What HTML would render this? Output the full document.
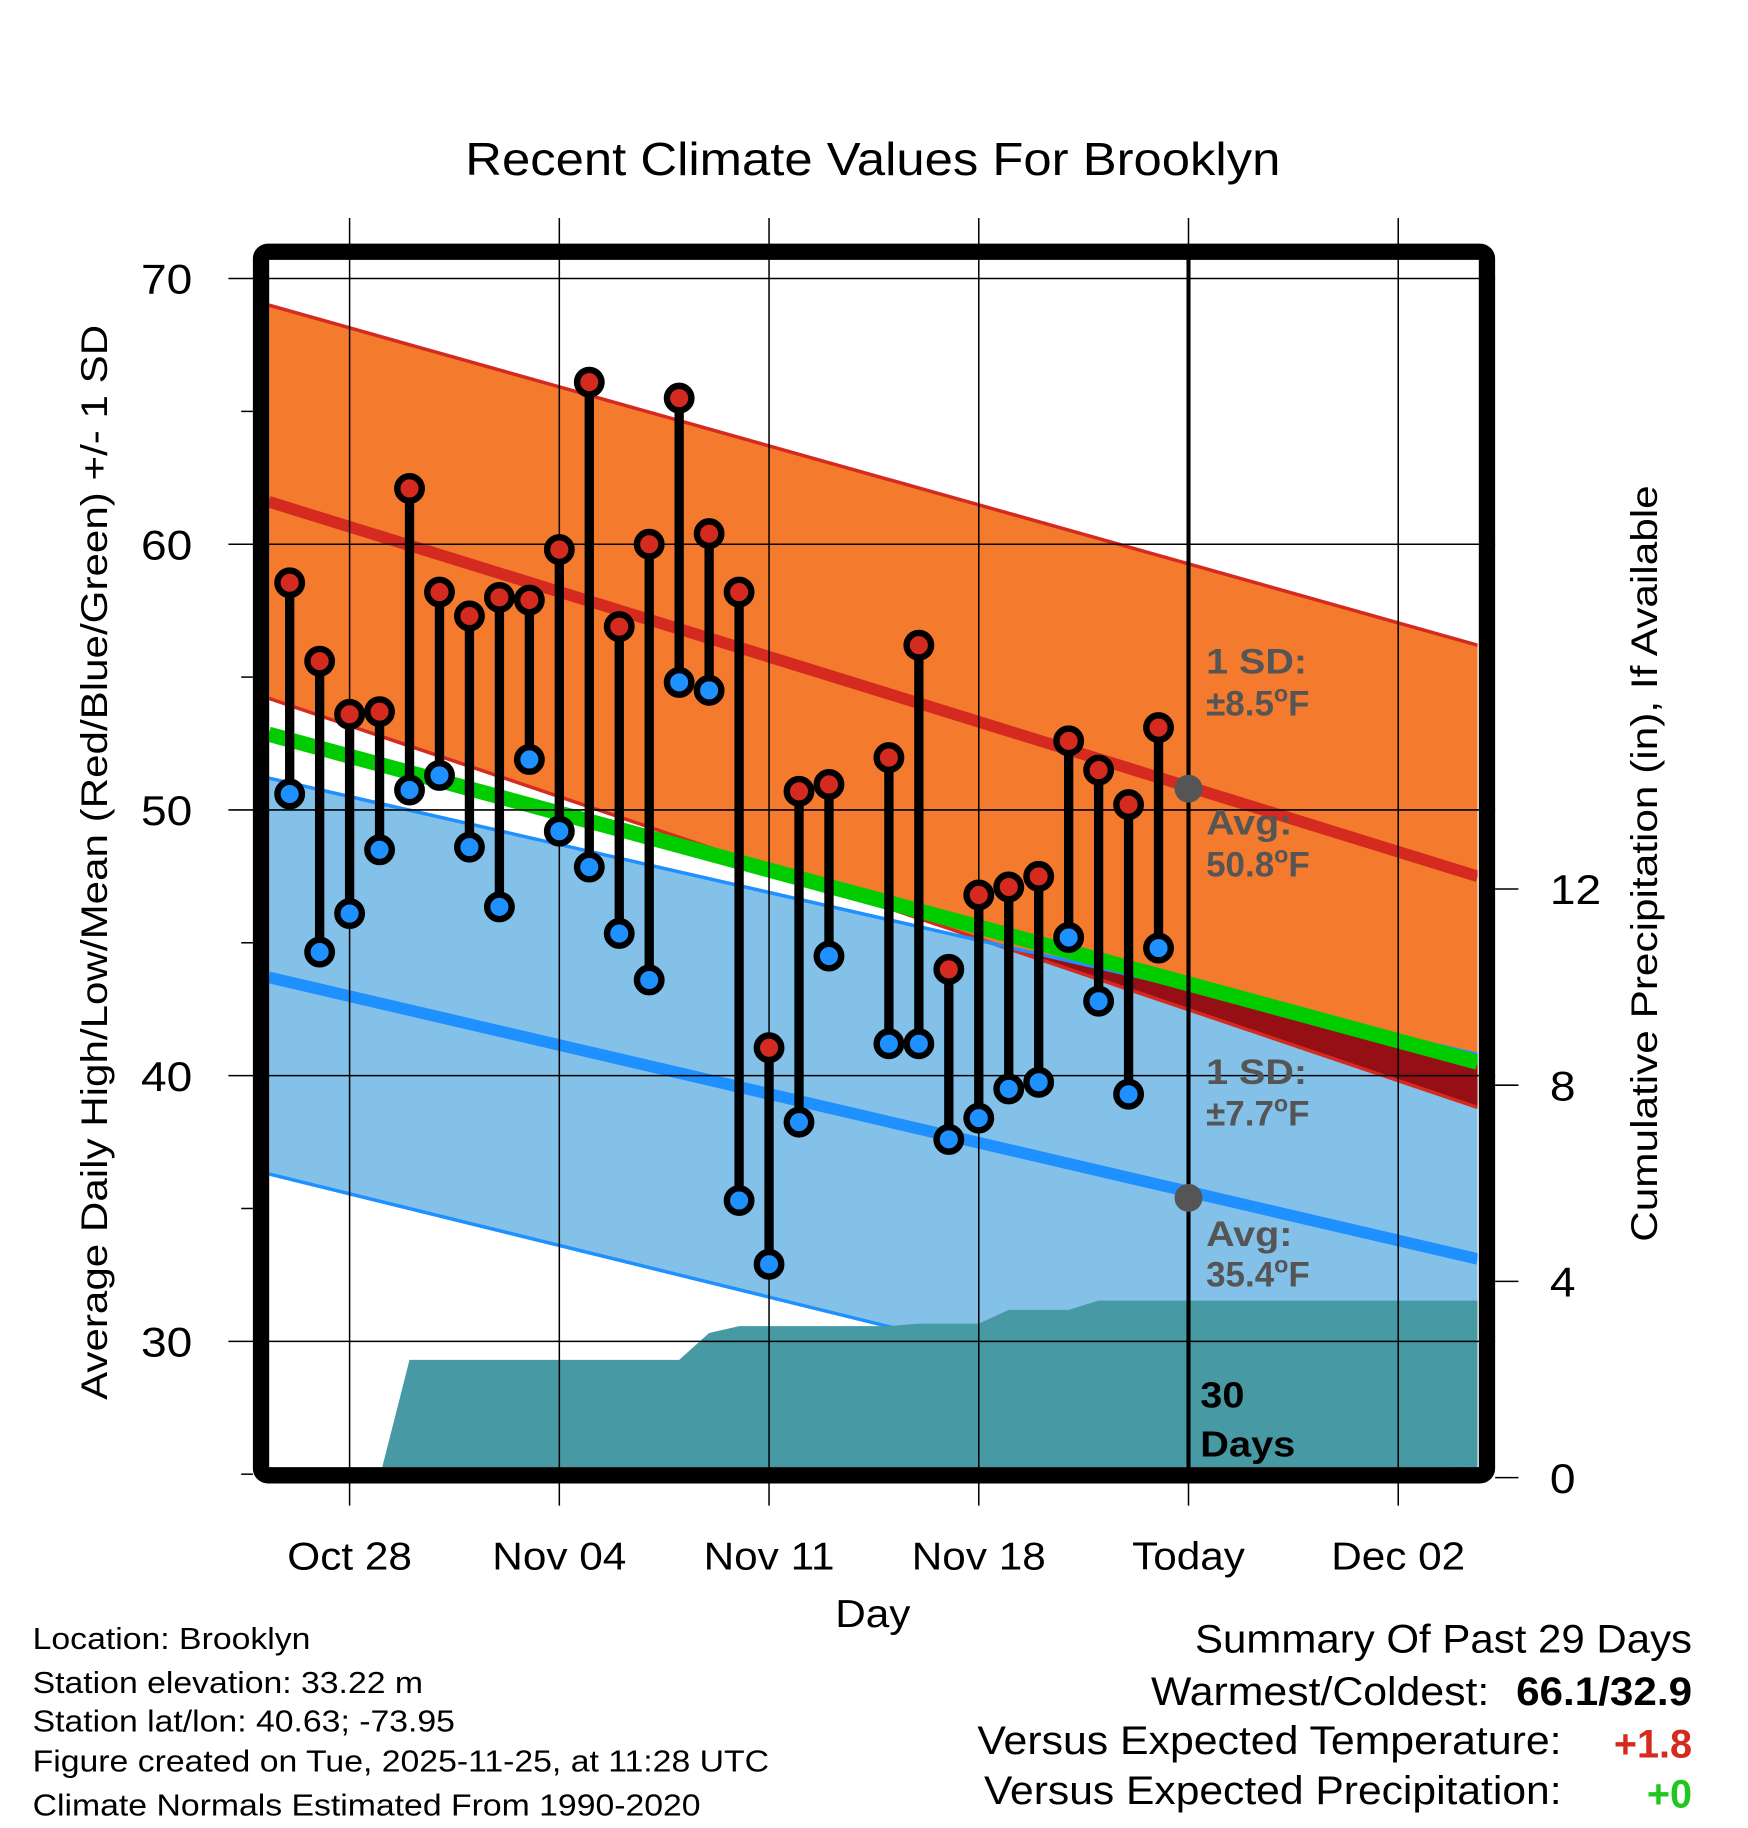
<!DOCTYPE html>
<html><head><meta charset="utf-8">
<style>
html,body{margin:0;padding:0;background:#fff;}
svg{display:block;font-family:"Liberation Sans",Arial,sans-serif;}
</style></head>
<body>
<svg id="chart" width="1748" height="1828" viewBox="0 0 1500 1568.6" xmlns="http://www.w3.org/2000/svg">
<g id="plot"></g>
</svg>
<script>
// ---------- data ----------
const days = [-2,-1,0,1,2,3,4,5,6,7,8,9,10,11,12,13,14,15,16,18,19,20,21,22,23,24,25,26,27];
const highs = [58.55,55.6,53.6,53.7,62.1,58.2,57.3,58.0,57.9,59.8,66.1,56.9,60.0,65.5,60.4,58.2,41.05,50.7,50.96,51.97,56.2,44.0,46.8,47.1,47.5,52.6,51.5,50.2,53.1];
const lows = [50.6,44.65,46.1,48.5,50.75,51.3,48.6,46.35,51.9,49.2,47.85,45.35,43.6,54.8,54.5,35.3,32.9,38.25,44.5,41.2,41.2,37.6,38.4,39.5,39.75,45.2,42.8,39.3,44.8];
const precipDays = [1,2,11,12,13,18,19,21,22,24,25,37.65];
const precipVals = [0,2.40,2.40,2.95,3.09,3.09,3.14,3.14,3.42,3.42,3.61,3.61];
const xTickDays = [0,7,14,21,28,35];
const xTickLabels = ["Oct 28","Nov 04","Nov 11","Nov 18","Today","Dec 02"];
const yTicks = [30,40,50,60,70];
const yMinor = [25,35,45,55,65];
const pTicks = [0,4,8,12];
const normHigh = [61.6,47.5];
const normHighUp = [69.0,56.2];
const normHighLo = [54.2,38.8];
const normLow = [43.7,33.1];
const normLowUp = [51.2,40.8];
const normLowLo = [36.3,25.1];
const normMean = [52.85,40.5];

// ---------- axes ----------
const X0=231, X1=1268, Y0=223, Y1=1259;
const dMin=-2.7, dMax=37.65;
function xs(d){return 300+25.71*d;}
function ys(t){return 239+(70-t)*22.8;}
function yp(p){return 1268-42.1*p;}
const NS="http://www.w3.org/2000/svg";
const plot=document.getElementById('plot');
function el(tag,attrs,parent){const e=document.createElementNS(NS,tag);for(const k in attrs)e.setAttribute(k,attrs[k]);(parent||plot).appendChild(e);return e;}
const stretchList=[];
function txt(s,attrs,ratio){const e=el('text',attrs);e.textContent=s;stretchList.push([e,ratio||1.1]);return e;}
function band(a,b){
  return `${xs(dMin)},${ys(a[0])} ${xs(dMax)},${ys(a[1])} ${xs(dMax)},${ys(b[1])} ${xs(dMin)},${ys(b[0])}`;
}
function lineAt(a,d){return a[0]+(a[1]-a[0])*(d-dMin)/(dMax-dMin);}

const defs=el('defs',{});
const cp=el('clipPath',{id:'clip'},defs);
el('rect',{x:X0,y:Y0,width:X1-X0,height:Y1-Y0},cp);

const g=el('g',{'clip-path':'url(#clip)'});
let e;
e=el('polygon',{points:band(normHighUp,normHighLo),fill:'#f47a2e'},g);


e=el('polygon',{points:band(normLowUp,normLowLo),fill:'#83c1e8'},g);


{
  const t=(normHighLo[0]-normLowUp[0])/((normLowUp[1]-normLowUp[0])-(normHighLo[1]-normHighLo[0]));
  const dc=dMin+t*(dMax-dMin);
  e=el('polygon',{points:`${xs(dc)},${ys(lineAt(normHighLo,dc))} ${xs(dMax)},${ys(normLowUp[1])} ${xs(dMax)},${ys(normHighLo[1])}`,fill:'#960f14'},g);
  
  
}
function edge(a,c,w,name){const l=el('line',{x1:xs(dMin),y1:ys(a[0]),x2:xs(dMax),y2:ys(a[1]),stroke:c,'stroke-width':w},g);
  
  }
edge(normHighUp,'#d42a20',3,'high-sd-upper');
edge(normHighLo,'#d42a20',3,'high-sd-lower');
edge(normLowUp,'#1e90ff',3,'low-sd-upper');
edge(normLowLo,'#1e90ff',3,'low-sd-lower');
{
  let pts=`${xs(precipDays[0])},${yp(0)+10} `;
  for(let i=0;i<precipDays.length;i++)pts+=`${xs(precipDays[i])},${yp(precipVals[i])} `;
  pts+=`${xs(precipDays[precipDays.length-1])},${yp(0)+10}`;
  e=el('polygon',{points:pts,fill:'#4799a3'},g);
  
  
}
edge(normMean,'#00cc00',13,'mean-normal-line');
edge(normHigh,'#d42a20',10,'avg-high-line');
edge(normLow,'#1e90ff',10,'avg-low-line');

for(const t of yTicks){const l=el('line',{x1:196,y1:ys(t),x2:1283,y2:ys(t),stroke:'#000','stroke-width':1.3});
  
  }
for(const t of yMinor){const l=el('line',{x1:207,y1:ys(t),x2:217,y2:ys(t),stroke:'#000','stroke-width':1.3});
  
  }
for(const d of xTickDays){const l=el('line',{x1:xs(d),y1:187,x2:xs(d),y2:1292,stroke:'#000','stroke-width':1.3});
  
  }
for(const p of pTicks){const l=el('line',{x1:1283,y1:yp(p),x2:1303,y2:yp(p),stroke:'#000','stroke-width':1.3});
  
  }

e=el('line',{x1:xs(28),y1:216,x2:xs(28),y2:1266,stroke:'#000','stroke-width':3.5});



for(let i=0;i<days.length;i++){
  const x=xs(days[i]);
  const s=el('line',{x1:x,y1:ys(highs[i]),x2:x,y2:ys(lows[i]),stroke:'#000','stroke-width':8});
  
  
}
for(let i=0;i<days.length;i++){
  const x=xs(days[i]);
  const h=el('circle',{cx:x,cy:ys(highs[i]),r:10.5,fill:'#d42a20',stroke:'#000','stroke-width':5.5});
  
  
  const l=el('circle',{cx:x,cy:ys(lows[i]),r:10.5,fill:'#1e90ff',stroke:'#000','stroke-width':5.5});
  
  
}
e=el('circle',{cx:xs(28),cy:ys(50.8),r:12,fill:'#555'});


e=el('circle',{cx:xs(28),cy:ys(35.4),r:12,fill:'#555'});



e=el('rect',{x:224,y:216,width:1052,height:1050,rx:6,fill:'none',stroke:'#000','stroke-width':14});



// annotations
const ann=[["1 SD:",578,""],["±8.5",614,"F"],["Avg:",716,""],["50.8",752,"F"],["1 SD:",930,""],["±7.7",966,"F"],["Avg:",1069,""],["35.4",1104,"F"]];
for(const [s,y,unit] of ann){
  const t=el('text',{x:1035,y:y,'font-size':30,'font-weight':'bold',fill:'#555'});
  
  
  if(unit){
    const a=el('tspan',{},t);a.textContent=s;
    const b=el('tspan',{dy:-12,'font-size':20},t);b.textContent="o";
    const c=el('tspan',{dy:12},t);c.textContent=unit;
  } else {t.textContent=s;stretchList.push([t,1.13]);}
}
e=txt("30",{x:1030,y:1208,'font-size':31,'font-weight':'bold',fill:'#000'},1.1);


e=txt("Days",{x:1030,y:1250,'font-size':31,'font-weight':'bold',fill:'#000'},1.1);



for(const t of yTicks){const l=txt(String(t),{x:143,y:ys(t)+13,'font-size':36,'text-anchor':'middle'});
  
  }
for(const p of pTicks){const l=txt(String(p),{x:1330,y:yp(p)+13,'font-size':36});
  
  }
for(let i=0;i<xTickDays.length;i++){const l=txt(xTickLabels[i],{x:xs(xTickDays[i]),y:1347,'font-size':33,'text-anchor':'middle'});
  
  }

e=txt("Recent Climate Values For Brooklyn",{x:749,y:150,'font-size':40,'text-anchor':'middle'},1.09);


e=txt("Day",{x:749,y:1396,'font-size':33,'text-anchor':'middle'});


e=txt("Average Daily High/Low/Mean (Red/Blue/Green) +/- 1 SD",{x:0,y:0,'font-size':32,'text-anchor':'middle',transform:'translate(92,740) rotate(-90)'},1.13);


e=txt("Cumulative Precipitation (in), If Available",{x:0,y:0,'font-size':32,'text-anchor':'middle',transform:'translate(1422,741) rotate(-90)'},1.135);



const foot=[["Location: Brooklyn",1415],["Station elevation: 33.22 m",1453],["Station lat/lon: 40.63; -73.95",1486],["Figure created on Tue, 2025-11-25, at 11:28 UTC",1520],["Climate Normals Estimated From 1990-2020",1558]];
for(const [s,y] of foot){const t=txt(s,{x:28,y:y,'font-size':26},1.115);
  
  }
e=txt("Summary Of Past 29 Days",{x:1452,y:1418,'font-size':34,'text-anchor':'end'},1.06);


e=txt("Warmest/Coldest:",{x:1278,y:1463,'font-size':34,'text-anchor':'end'},1.08);


e=txt("66.1/32.9",{x:1452,y:1463,'font-size':34,'font-weight':'bold','text-anchor':'end'},1.065);


e=txt("Versus Expected Temperature:",{x:1340,y:1505,'font-size':34,'text-anchor':'end'},1.08);


e=txt("+1.8",{x:1452,y:1508,'font-size':34,'font-weight':'bold','text-anchor':'end',fill:'#d42a20'},1.0);


e=txt("Versus Expected Precipitation:",{x:1340,y:1548,'font-size':34,'text-anchor':'end'},1.075);


e=txt("+0",{x:1452,y:1551,'font-size':34,'font-weight':'bold','text-anchor':'end',fill:'#1ec81e'},1.0);



// widen text to match reference font metrics
for(const [t,r] of stretchList){
  if(r===1) continue;
  const w=t.getComputedTextLength();
  t.setAttribute('textLength',(w*r).toFixed(1));
  t.setAttribute('lengthAdjust','spacingAndGlyphs');
}
</script>
</body></html>
